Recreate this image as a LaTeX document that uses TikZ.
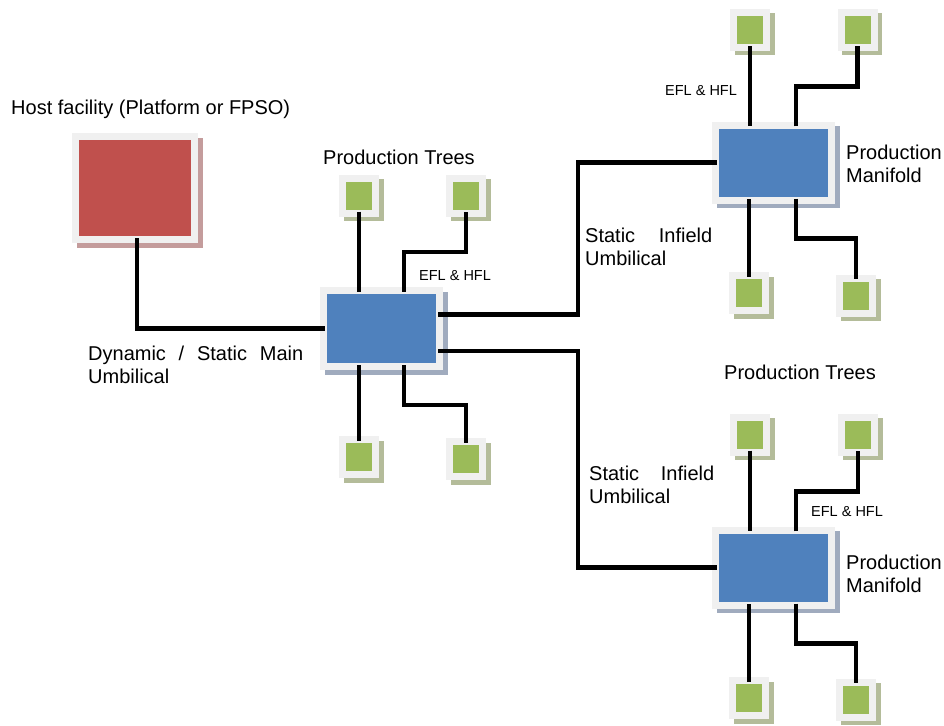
\documentclass[tikz,border=0pt]{standalone}
\usepackage{fontspec}
\setmainfont{Liberation Sans}
\usepackage{tikz}
\usetikzlibrary{shadows, calc}
\usepackage{xcolor}
\definecolor{framegray}{HTML}{F0F0F0}
\definecolor{hostred}{HTML}{C0504D}
\definecolor{hostshadow}{HTML}{C49C9C}
\definecolor{hubblue}{HTML}{4F81BD}
\definecolor{blueshadow}{HTML}{A0ABBE}
\definecolor{treegreen}{HTML}{9BBB59}
\definecolor{greenshadow}{HTML}{B4BC9A}
\tikzset{tile/.style 2 args={rectangle, inner sep=0pt, fill=framegray,
    general shadow={shadow xshift=4.5pt, shadow yshift=-4.5pt, fill=#2},
    path picture={\fill[#1] ([shift={(7pt,7pt)}]path picture bounding box.south west) rectangle ([shift={(-7pt,-7pt)}]path picture bounding box.north east);}}}
\tikzstyle{tree} = [tile={treegreen}{greenshadow}, minimum width=40pt, minimum height=42pt]
\tikzstyle{subsea} = [tile={hubblue}{blueshadow}, minimum width=123pt, minimum height=82pt]
\tikzstyle{cable} = [line width=4.5pt, shorten <=-5pt, shorten >=-5pt]
\tikzstyle{txt} = [inner sep=0pt, anchor=base west, align=left, font=\fontsize{20}{23}\selectfont]
\tikzstyle{smalltxt} = [inner sep=0pt, anchor=base west, font=\fontsize{14.5}{17}\selectfont]

\begin{document}
\begin{tikzpicture}[x=1pt, y=-1pt]
    \useasboundingbox (0,0) rectangle (944,725);

    % host and subsea units
    \node (host) [tile={hostred}{hostshadow}, minimum width=126pt, minimum height=110pt] at (135,188) {};
    \node (hub) [subsea, minimum height=83pt] at (381.5,328.5) {};
    \node (mfA) [subsea] at (773.5,162.5) {};
    \node (mfB) [subsea] at (773.5,567.5) {};

    % production trees
    \node (hub-tl) [tree] at (359,195.5) {};
    \node (hub-tr) [tree] at (466,195.5) {};
    \node (hub-bl) [tree] at (359,457) {};
    \node (hub-br) [tree] at (466,459) {};
    \node (mfA-tl) [tree] at (750,30) {};
    \node (mfA-tr) [tree] at (857.5,30) {};
    \node (mfA-bl) [tree] at (749,293) {};
    \node (mfA-br) [tree] at (856,295.5) {};
    \node (mfB-tl) [tree] at (750,434.5) {};
    \node (mfB-tr) [tree] at (858,434.5) {};
    \node (mfB-bl) [tree] at (749,698) {};
    \node (mfB-br) [tree] at (856,699.5) {};

    % umbilicals
    \coordinate (split) at (578,0);
    \draw [cable] ([xshift=2pt]host.south) |- (hub.west);
    \draw [cable] ([yshift=14pt]hub.east) -| (split |- mfA.west) -- (mfA.west);
    \draw [cable] ([yshift=-22.5pt]hub.east) -| (split |- mfB.west) -- (mfB.west);

    \foreach \b in {hub, mfA, mfB} {
        \draw [cable] (\b-tl.south) -- (\b-tl.south |- \b.north);
        \draw [cable] ([xshift=22.5pt]\b.north) -- ++(0,-35) -| (\b-tr.south);
        \draw [cable] (\b-bl.north) -- (\b-bl.north |- \b.south);
        \draw [cable] ([xshift=22.5pt]\b.south) -- ++(0,35) -| (\b-br.north);
    }

    % labels (base = last line)
    \node (hostlbl) [txt] at (11,114) {Host facility (Platform or FPSO)};
    \node (mainlbl) [txt] at (88,383) {\makebox[215pt][s]{Dynamic / Static Main}\\Umbilical};
    \node (treesA) [txt] at (323,164) {Production Trees};
    \node (treesB) [txt] at (724,379) {Production Trees};
    \node (infA) [txt] at (585,265) {\makebox[127pt][s]{Static Infield}\\Umbilical};
    \node (infB) [txt] at (589,503) {\makebox[125pt][s]{Static Infield}\\Umbilical};
    \node (mfAlbl) [txt] at (846,182) {Production\\Manifold};
    \node (mfBlbl) [txt] at (846,592) {Production\\Manifold};
    \node (eflhub) [smalltxt] at (419,280) {EFL \& HFL};
    \node (eflA) [smalltxt] at (665,95) {EFL \& HFL};
    \node (eflB) [smalltxt] at (811,516) {EFL \& HFL};
\end{tikzpicture}
\end{document}
